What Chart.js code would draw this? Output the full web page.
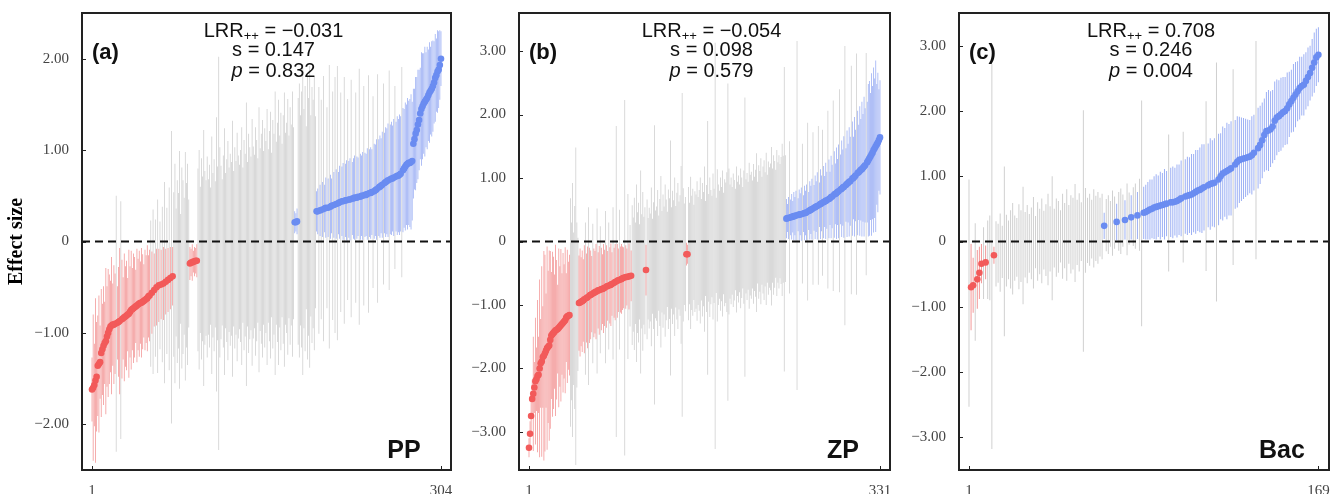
<!DOCTYPE html>
<html>
<head>
<meta charset="utf-8">
<title>Effect size by study</title>
<script src="https://cdn.jsdelivr.net/npm/chart.js@4.4.0/dist/chart.umd.min.js"></script>
<style>
    html, body { margin: 0; padding: 0; background: #fff; }
    #wrap { position: relative; width: 1342px; height: 494px; overflow: hidden; }
    canvas { position: absolute; top: 0; }
</style>
</head>
<body>
<div id="wrap">
    <canvas id="chartPP" width="460" height="494" style="left:0px"></canvas>
    <canvas id="chartZP" width="440" height="494" style="left:460px"></canvas>
    <canvas id="chartBac" width="442" height="494" style="left:900px"></canvas>
</div>
<script>
// sorted effect sizes (LRR) and half-width of the 95% CI, one entry per study
const ppEffect = [
    -1.62,-1.60,-1.57,-1.52,-1.48,-1.36,-1.34,-1.32,-1.22,-1.18,
    -1.14,-1.11,-1.09,-1.04,-1.00,-0.96,-0.93,-0.92,-0.91,-0.91,
    -0.90,-0.90,-0.89,-0.88,-0.87,-0.86,-0.85,-0.84,-0.83,-0.82,
    -0.81,-0.80,-0.79,-0.77,-0.75,-0.74,-0.73,-0.72,-0.71,-0.70,
    -0.69,-0.68,-0.67,-0.67,-0.66,-0.65,-0.64,-0.63,-0.62,-0.60,
    -0.59,-0.57,-0.56,-0.55,-0.53,-0.51,-0.50,-0.49,-0.48,-0.48,
    -0.47,-0.47,-0.46,-0.45,-0.44,-0.43,-0.42,-0.41,-0.40,-0.39,
    -0.38,-0.36,-0.35,-0.34,-0.33,-0.32,-0.31,-0.30,-0.29,-0.28,
    -0.27,-0.27,-0.26,-0.25,-0.24,-0.24,-0.23,-0.23,-0.22,-0.22,
    -0.21,-0.21,-0.20,-0.20,-0.20,-0.19,-0.19,-0.18,-0.18,-0.18,
    -0.17,-0.17,-0.16,-0.16,-0.15,-0.15,-0.15,-0.14,-0.14,-0.13,
    -0.13,-0.12,-0.12,-0.12,-0.11,-0.11,-0.10,-0.10,-0.10,-0.09,
    -0.09,-0.08,-0.08,-0.08,-0.07,-0.07,-0.06,-0.06,-0.06,-0.05,
    -0.05,-0.04,-0.04,-0.04,-0.03,-0.03,-0.02,-0.02,-0.02,-0.01,
    -0.01,0.00,0.00,0.01,0.01,0.02,0.02,0.03,0.03,0.04,
    0.04,0.05,0.05,0.06,0.06,0.07,0.07,0.08,0.08,0.09,
    0.09,0.10,0.10,0.11,0.11,0.12,0.13,0.13,0.14,0.15,
    0.16,0.16,0.17,0.18,0.19,0.20,0.21,0.21,0.22,0.22,
    0.23,0.23,0.24,0.24,0.25,0.25,0.26,0.26,0.27,0.27,
    0.28,0.29,0.30,0.31,0.32,0.33,0.33,0.34,0.34,0.35,
    0.35,0.36,0.36,0.37,0.37,0.37,0.38,0.38,0.39,0.39,
    0.40,0.40,0.41,0.42,0.42,0.43,0.43,0.44,0.44,0.45,
    0.45,0.45,0.46,0.46,0.46,0.47,0.47,0.47,0.48,0.48,
    0.48,0.49,0.49,0.49,0.50,0.50,0.50,0.51,0.51,0.52,
    0.52,0.53,0.53,0.54,0.54,0.55,0.56,0.57,0.58,0.59,
    0.60,0.61,0.62,0.63,0.64,0.65,0.66,0.67,0.67,0.68,
    0.69,0.69,0.70,0.70,0.71,0.72,0.72,0.73,0.74,0.76,
    0.78,0.80,0.82,0.84,0.85,0.86,0.86,0.87,0.88,1.07,
    1.12,1.18,1.22,1.28,1.33,1.40,1.45,1.48,1.51,1.53,
    1.55,1.57,1.60,1.63,1.65,1.67,1.70,1.74,1.79,1.82,
    1.86,1.88,1.93,2.00
];
const ppHalfCI = [
    0.35,0.80,0.45,0.90,0.60,0.55,0.75,0.40,0.70,0.50,
    0.65,0.45,0.80,0.55,0.70,0.60,0.50,0.75,0.45,0.65,
    0.55,1.40,0.40,0.60,0.80,1.30,0.65,0.45,0.70,0.55,
    0.60,0.40,0.70,0.50,0.65,0.45,0.60,0.55,0.40,0.62,
    0.50,0.58,0.45,0.60,0.52,0.40,0.55,0.48,0.58,0.45,
    0.50,0.80,0.45,0.90,0.40,0.75,0.42,0.95,0.40,0.70,
    0.38,0.85,0.40,1.10,0.36,0.80,0.35,1.00,0.34,1.60,
    0.32,0.90,1.20,0.70,1.00,0.85,1.30,0.60,1.10,0.95,
    0.75,1.25,0.90,1.10,0.70,0.18,0.15,0.20,0.12,0.16,
    0.14,0.18,1.00,1.20,0.80,1.10,0.90,1.40,0.95,0.85,
    1.10,0.85,1.00,0.75,1.30,0.90,1.05,0.80,1.50,0.95,
    2.15,1.15,0.95,0.80,1.05,1.35,0.85,1.00,1.20,0.90,
    1.05,0.95,1.40,0.85,1.10,0.95,1.25,1.00,0.90,1.05,
    1.30,0.85,1.15,1.00,1.55,0.90,1.20,1.05,0.95,1.35,
    1.05,0.95,1.25,1.10,0.90,1.45,1.00,1.15,1.30,0.95,
    1.20,1.05,1.40,0.95,1.15,1.35,0.90,1.25,1.10,1.55,
    1.00,1.20,1.45,1.05,1.30,0.95,1.25,1.50,1.05,1.15,
    1.40,1.00,1.30,1.10,1.45,1.05,0.12,0.10,0.14,1.35,
    1.50,1.15,1.40,1.70,1.20,1.45,1.00,1.55,1.30,1.65,
    1.10,1.40,1.25,1.50,1.05,0.22,0.25,1.35,0.28,1.20,
    0.30,1.45,0.26,0.33,1.10,0.32,1.55,0.35,0.30,1.25,
    0.36,1.40,0.38,1.50,0.34,0.40,1.20,0.38,0.42,1.35,
    0.40,0.44,1.10,0.42,0.45,1.30,0.40,0.44,0.46,1.15,
    0.45,0.43,1.40,0.47,0.44,0.48,1.20,0.46,0.45,0.50,
    1.30,0.48,0.50,0.47,1.05,0.52,0.50,0.55,1.25,0.53,
    0.56,0.52,0.58,1.10,0.55,0.60,0.58,0.62,1.20,0.60,
    0.62,0.58,0.64,1.00,0.60,0.65,0.62,0.66,0.63,1.15,
    0.68,0.65,0.70,0.66,0.72,0.68,0.70,0.74,0.65,0.60,
    0.55,0.62,0.58,0.60,0.55,0.50,0.62,0.58,0.55,0.60,
    0.52,0.56,0.50,0.55,0.48,0.52,0.50,0.45,0.48,0.40,
    0.45,0.42,0.38,0.30
];

const zpEffect = [
    -3.25,-3.03,-2.75,-2.48,-2.40,-2.30,-2.20,-2.17,-2.12,-2.10,
    -2.00,-1.92,-1.89,-1.82,-1.80,-1.76,-1.72,-1.68,-1.66,-1.64,
    -1.55,-1.48,-1.46,-1.44,-1.42,-1.40,-1.39,-1.38,-1.36,-1.34,
    -1.32,-1.30,-1.28,-1.26,-1.24,-1.20,-1.18,-1.17,-1.16,-1.12,
    -1.10,-1.08,-1.06,-1.04,-1.02,-1.00,-0.99,-0.97,-0.96,-0.95,
    -0.94,-0.93,-0.91,-0.90,-0.89,-0.88,-0.86,-0.85,-0.84,-0.83,
    -0.82,-0.81,-0.80,-0.79,-0.78,-0.77,-0.77,-0.76,-0.75,-0.75,
    -0.74,-0.73,-0.72,-0.71,-0.70,-0.70,-0.69,-0.68,-0.67,-0.66,
    -0.65,-0.64,-0.63,-0.62,-0.61,-0.60,-0.60,-0.59,-0.58,-0.57,
    -0.57,-0.56,-0.56,-0.55,-0.55,-0.54,-0.54,-0.53,-0.52,-0.51,
    -0.50,-0.50,-0.49,-0.49,-0.48,-0.48,-0.47,-0.47,-0.46,-0.46,
    -0.45,-0.44,-0.43,-0.42,-0.41,-0.40,-0.39,-0.38,-0.37,-0.36,
    -0.35,-0.34,-0.34,-0.33,-0.32,-0.32,-0.31,-0.30,-0.30,-0.29,
    -0.28,-0.28,-0.27,-0.26,-0.26,-0.25,-0.25,-0.24,-0.24,-0.23,
    -0.23,-0.22,-0.22,-0.21,-0.21,-0.21,-0.20,-0.20,-0.20,-0.20,
    -0.19,-0.19,-0.18,-0.18,-0.17,-0.17,-0.16,-0.16,-0.15,-0.15,
    -0.14,-0.14,-0.13,-0.13,-0.12,-0.12,-0.11,-0.11,-0.10,-0.10,
    -0.09,-0.09,-0.08,-0.08,-0.07,-0.07,-0.06,-0.06,-0.05,-0.05,
    -0.04,-0.04,-0.03,-0.03,-0.02,-0.02,-0.01,-0.01,0.00,0.00,
    0.01,0.01,0.02,0.02,0.03,0.03,0.04,0.04,0.05,0.05,
    0.06,0.06,0.07,0.07,0.08,0.08,0.09,0.09,0.10,0.10,
    0.11,0.12,0.12,0.13,0.14,0.14,0.15,0.16,0.16,0.17,
    0.18,0.18,0.19,0.20,0.20,0.21,0.22,0.23,0.24,0.25,
    0.26,0.27,0.28,0.29,0.30,0.31,0.32,0.33,0.34,0.35,
    0.35,0.36,0.36,0.37,0.37,0.38,0.38,0.39,0.39,0.40,
    0.40,0.41,0.41,0.42,0.42,0.43,0.43,0.44,0.44,0.45,
    0.45,0.46,0.47,0.48,0.49,0.50,0.51,0.52,0.53,0.54,
    0.55,0.56,0.57,0.58,0.59,0.60,0.61,0.62,0.63,0.64,
    0.65,0.66,0.67,0.68,0.70,0.71,0.72,0.74,0.75,0.76,
    0.78,0.79,0.80,0.82,0.83,0.85,0.86,0.88,0.89,0.91,
    0.92,0.94,0.95,0.97,0.99,1.00,1.02,1.04,1.06,1.08,
    1.09,1.11,1.13,1.14,1.16,1.18,1.20,1.22,1.25,1.28,
    1.31,1.34,1.37,1.40,1.44,1.47,1.50,1.53,1.56,1.60,1.64
];
const zpHalfCI = [
    0.15,0.20,0.25,0.30,0.90,0.40,1.00,0.50,1.20,0.60,
    1.40,0.70,1.50,0.80,1.65,1.55,0.90,1.60,1.20,1.50,
    1.40,1.00,1.30,1.20,0.90,1.35,1.10,0.70,1.25,0.95,
    1.20,0.80,1.10,0.90,1.15,0.70,1.05,0.85,0.95,1.80,
    1.40,2.00,1.20,1.60,2.50,1.30,1.05,0.75,0.85,0.70,
    0.80,0.65,0.85,1.20,0.70,0.80,1.40,0.75,0.70,0.60,
    1.10,0.70,0.65,0.75,1.30,0.60,0.70,1.00,0.65,0.55,
    0.70,0.60,1.20,0.65,0.55,1.00,0.60,0.65,0.50,1.20,
    0.55,0.60,2.45,0.58,0.50,1.10,0.52,0.55,0.50,0.48,
    2.80,0.50,0.45,1.30,0.52,0.80,0.40,1.10,0.90,1.20,
    0.80,1.40,0.95,1.10,0.75,1.60,0.90,1.25,0.85,1.00,
    0.40,1.10,0.80,0.95,0.85,1.25,0.75,1.00,2.20,0.85,
    0.90,1.15,0.75,1.00,1.35,0.80,1.05,0.85,1.20,0.95,
    0.75,1.10,0.95,1.85,0.80,1.05,0.90,1.25,0.80,1.00,
    1.15,0.85,0.95,1.40,2.55,1.05,0.80,0.90,0.18,0.15,
    1.05,0.80,1.20,0.90,1.00,0.75,0.95,0.90,1.10,0.85,
    0.95,1.15,0.80,1.05,0.90,1.30,0.75,1.00,2.00,0.85,
    1.10,0.90,0.80,1.15,0.90,3.20,0.75,1.20,0.95,0.85,
    1.05,0.90,1.15,0.80,1.00,0.95,1.10,2.50,1.15,0.90,
    1.00,0.85,1.05,0.95,0.80,1.15,0.90,1.00,0.85,1.10,
    0.95,0.80,1.05,2.20,0.90,1.00,0.85,1.15,0.95,1.00,
    0.85,1.10,0.90,1.00,1.25,0.80,1.05,0.95,1.15,0.85,
    1.00,1.10,0.90,1.20,0.85,1.05,0.95,1.00,1.25,0.90,
    1.10,1.00,0.85,1.15,0.95,1.05,0.90,1.00,1.20,1.00,
    2.40,1.00,0.31,0.22,0.33,1.20,0.28,0.36,0.25,0.38,
    0.30,0.39,2.75,0.26,0.40,0.33,0.42,1.10,0.29,0.43,
    0.35,0.44,1.40,0.30,0.46,0.38,0.48,1.20,0.36,0.50,
    0.40,0.53,1.25,0.35,0.55,0.44,1.15,0.57,0.40,0.60,
    0.45,1.40,0.62,0.42,0.65,0.50,1.50,0.68,0.48,0.72,
    0.52,0.74,1.60,0.55,0.76,0.60,0.80,2.20,0.58,0.84,
    0.62,0.86,0.70,1.80,0.90,0.65,0.94,0.72,1.90,0.98,
    0.75,1.02,0.80,1.06,0.85,1.10,0.90,1.75,0.95,1.20,
    1.22,1.00,1.28,1.05,1.30,1.10,1.35,0.95,1.10,0.80,0.90
];

const bacEffect = [
    -0.79,-0.70,-0.67,-0.62,-0.58,-0.48,-0.34,-0.33,-0.32,-0.28,
    -0.25,-0.23,-0.21,-0.19,-0.18,-0.17,-0.16,-0.15,-0.14,-0.13,
    -0.12,-0.11,-0.10,-0.09,-0.08,-0.07,-0.06,-0.05,-0.04,-0.03,
    -0.03,-0.02,-0.01,0.00,0.00,0.01,0.02,0.02,0.03,0.04,
    0.05,0.05,0.06,0.07,0.08,0.08,0.09,0.10,0.11,0.11,
    0.12,0.13,0.14,0.14,0.15,0.16,0.17,0.17,0.18,0.19,
    0.20,0.20,0.21,0.22,0.23,0.24,0.25,0.26,0.27,0.28,
    0.29,0.30,0.31,0.31,0.32,0.33,0.34,0.35,0.37,0.38,
    0.39,0.40,0.41,0.43,0.44,0.45,0.47,0.49,0.50,0.52,
    0.53,0.54,0.55,0.56,0.57,0.58,0.59,0.60,0.60,0.61,
    0.62,0.64,0.66,0.68,0.69,0.70,0.71,0.72,0.74,0.76,
    0.78,0.79,0.81,0.83,0.85,0.86,0.88,0.89,0.90,0.91,
    0.95,1.00,1.04,1.06,1.08,1.10,1.12,1.14,1.18,1.22,
    1.25,1.26,1.27,1.28,1.29,1.30,1.32,1.36,1.40,1.43,
    1.48,1.55,1.63,1.69,1.70,1.72,1.76,1.85,1.90,1.92,
    1.95,1.98,2.00,2.04,2.10,2.15,2.20,2.25,2.30,2.35,
    2.38,2.40,2.46,2.52,2.58,2.66,2.74,2.82,2.86
];
const bacHalfCI = [
    1.74,0.66,0.42,0.90,0.45,0.40,0.30,0.55,0.26,0.60,
    0.65,2.95,0.13,0.50,0.45,0.60,0.40,1.30,0.55,0.45,
    0.60,0.70,0.50,0.45,0.65,0.55,0.90,0.50,0.60,0.45,
    0.55,0.70,0.40,0.60,0.50,0.65,0.45,0.55,0.70,0.50,
    0.95,0.45,0.60,0.55,0.40,0.65,0.50,0.70,0.45,0.60,
    0.55,0.75,0.50,0.60,0.45,1.85,0.65,0.50,0.55,0.45,
    0.60,0.50,0.55,0.45,0.50,0.20,0.40,0.45,0.35,0.50,
    0.40,0.28,0.45,0.50,0.40,0.30,0.55,0.40,0.34,0.45,
    0.50,0.36,0.55,1.73,0.40,0.42,0.44,0.46,0.45,0.48,
    0.50,0.47,0.52,0.49,0.54,0.50,1.05,0.53,0.55,0.52,
    0.56,0.54,0.58,1.00,0.57,0.60,0.58,0.62,0.60,0.64,
    0.62,0.65,0.68,0.66,1.30,0.64,0.70,0.66,0.68,1.83,
    0.70,0.66,0.72,0.68,0.74,0.70,0.72,1.50,0.68,0.70,
    0.66,0.64,0.62,0.60,0.58,0.56,0.60,0.58,1.67,0.62,
    0.60,0.58,0.56,0.60,0.62,0.58,0.56,0.60,0.58,0.55,
    0.56,0.54,0.52,0.55,0.50,0.48,0.52,0.50,0.46,0.48,
    0.45,0.47,0.44,0.45,0.42,0.44,0.46,0.44,0.42
];

const ppYTicks = [-2, -1, 0, 1, 2];
const zpYTicks = [-3, -2, -1, 0, 1, 2, 3];
const bacYTicks = [-3, -2, -1, 0, 1, 2, 3];
const ppXTicks = [1, 304];
const zpXTicks = [1, 331];
const bacXTicks = [1, 169];

const panelTags = ['(a)', '(b)', '(c)'];
const groupNames = ['PP', 'ZP', 'Bac'];
const lrrValues = ['\u22120.031', '\u22120.054', '0.708'];
const sValues = ['0.147', '0.098', '0.246'];
const pValues = ['0.832', '0.579', '0.004'];

const GREY_BAR = '#d0d0d0';
const RED_BAR = '#f39898';
const BLUE_BAR = '#9db0f4';
const RED_DOT = '#f25a5a';
const BLUE_DOT = '#6a8cf1';

Chart.defaults.font.family = '"Liberation Sans", Arial, sans-serif';

function splitStudies(effect, half) {
    const out = { grey: [], red: [], blue: [], redPts: [], bluePts: [] };
    effect.forEach((v, i) => {
        const lo = v - half[i];
        const hi = v + half[i];
        const bar = { x: i + 1, y: [lo, hi] };
        if (hi < 0) {
            out.red.push(bar);
            out.redPts.push({ x: i + 1, y: v });
        } else if (lo > 0) {
            out.blue.push(bar);
            out.bluePts.push({ x: i + 1, y: v });
        } else {
            out.grey.push(bar);
        }
    });
    return out;
}

function fmtTick(v) {
    if (v === 0) return '0';
    return (v < 0 ? '\u2212' : '') + Math.abs(v).toFixed(2);
}

// scales should not push the plot box around with label overflow
function noScalePadding(s) {
    s.paddingTop = 0;
    s.paddingBottom = 0;
    s.paddingLeft = 0;
    s.paddingRight = 0;
}

const panelDecor = {
    id: 'panelDecor',
    afterDatasetsDraw(chart, args, opts) {
        const ctx = chart.ctx;
        const a = chart.chartArea;
        const xs = chart.scales.x;
        const ys = chart.scales.y;
        ctx.save();

        // zero reference line
        const y0 = ys.getPixelForValue(0);
        ctx.strokeStyle = '#111';
        ctx.lineWidth = 2;
        ctx.setLineDash([8, 5]);
        ctx.beginPath();
        ctx.moveTo(a.left, y0);
        ctx.lineTo(a.right, y0);
        ctx.stroke();
        ctx.setLineDash([]);

        // frame + small inward ticks
        ctx.strokeStyle = '#222';
        ctx.lineWidth = 2;
        ctx.strokeRect(a.left, a.top, a.right - a.left, a.bottom - a.top);
        ctx.lineWidth = 1;
        ctx.beginPath();
        ys.ticks.forEach(t => {
            const py = Math.round(ys.getPixelForValue(t.value)) + 0.5;
            ctx.moveTo(a.left, py);
            ctx.lineTo(a.left + 4, py);
        });
        xs.ticks.forEach(t => {
            const px = Math.round(xs.getPixelForValue(t.value)) + 0.5;
            ctx.moveTo(px, a.bottom);
            ctx.lineTo(px, a.bottom - 4);
        });
        ctx.stroke();

        // statistics block
        const big = '20px "Liberation Sans", Arial, sans-serif';
        const small = '13px "Liberation Sans", Arial, sans-serif';
        const cx = (a.left + a.right) / 2 + 7;
        ctx.fillStyle = '#111';
        ctx.textBaseline = 'alphabetic';
        ctx.textAlign = 'left';

        ctx.font = big;
        const w1 = ctx.measureText('LRR').width;
        const rest = ' = ' + opts.lrr;
        const w3 = ctx.measureText(rest).width;
        ctx.font = small;
        const w2 = ctx.measureText('++').width;
        let sx = cx - (w1 + w2 + w3) / 2;
        ctx.font = big;
        ctx.fillText('LRR', sx, a.top + 24);
        ctx.font = small;
        ctx.fillText('++', sx + w1, a.top + 27);
        ctx.font = big;
        ctx.fillText(rest, sx + w1 + w2, a.top + 24);

        ctx.textAlign = 'center';
        ctx.fillText('s = ' + opts.s, cx, a.top + 43);

        ctx.textAlign = 'left';
        ctx.font = 'italic ' + big;
        const wp = ctx.measureText('p').width;
        ctx.font = big;
        const pRest = ' = ' + opts.p;
        const wr = ctx.measureText(pRest).width;
        sx = cx - (wp + wr) / 2;
        ctx.font = 'italic ' + big;
        ctx.fillText('p', sx, a.top + 64);
        ctx.font = big;
        ctx.fillText(pRest, sx + wp, a.top + 64);

        // panel tag and group name
        ctx.font = 'bold 22px "Liberation Sans", Arial, sans-serif';
        ctx.fillText(opts.tag, a.left + 10, a.top + 46);
        ctx.font = 'bold 25px "Liberation Sans", Arial, sans-serif';
        ctx.textAlign = 'center';
        ctx.fillText(opts.group, a.right - 47, a.bottom - 12);

        ctx.restore();
    }
};

function drawPanel(canvasId, p) {
    const d = splitStudies(p.effect, p.half);
    const ctx = document.getElementById(canvasId).getContext('2d');
    const tickFont = { family: '"Liberation Serif", "Times New Roman", serif', size: 15 };
    const barOpts = { type: 'bar', grouped: false, barThickness: p.barWidth, inflateAmount: 0, borderWidth: 0 };

    return new Chart(ctx, {
        type: 'scatter',
        data: {
            datasets: [
                { type: 'scatter', data: d.redPts, backgroundColor: RED_DOT, borderWidth: 0, pointRadius: 3.3, order: 0 },
                { type: 'scatter', data: d.bluePts, backgroundColor: BLUE_DOT, borderWidth: 0, pointRadius: 3.3, order: 0 },
                Object.assign({ data: d.red, backgroundColor: RED_BAR, order: 1 }, barOpts),
                Object.assign({ data: d.blue, backgroundColor: BLUE_BAR, order: 1 }, barOpts),
                Object.assign({ data: d.grey, backgroundColor: GREY_BAR, order: 2 }, barOpts)
            ]
        },
        options: {
            responsive: false,
            animation: false,
            events: [],
            layout: { padding: { top: 13, right: p.rightPad, left: 0, bottom: 0 } },
            plugins: {
                legend: { display: false },
                tooltip: { enabled: false },
                panelDecor: { lrr: p.lrr, s: p.s, p: p.p, tag: p.tag, group: p.group }
            },
            scales: {
                x: {
                    type: 'linear',
                    min: p.xMin,
                    max: p.xMax,
                    offset: false,
                    grid: { display: false, drawTicks: false, offset: false },
                    border: { display: false },
                    afterBuildTicks: s => { s.ticks = p.xTicks.map(v => ({ value: v })); },
                    afterFit: s => { s.height = 24; noScalePadding(s); },
                    ticks: {
                        padding: 12,
                        autoSkip: false,
                        maxRotation: 0,
                        color: '#444',
                        font: tickFont,
                        callback: v => String(v)
                    }
                },
                y: {
                    type: 'linear',
                    min: p.yMin,
                    max: p.yMax,
                    grid: { display: false, drawTicks: false },
                    border: { display: false },
                    afterBuildTicks: s => { s.ticks = p.yTicks.map(v => ({ value: v })); },
                    afterFit: s => { s.width = p.yWidth; noScalePadding(s); },
                    ticks: {
                        padding: 13,
                        color: '#444',
                        font: tickFont,
                        callback: v => fmtTick(v)
                    },
                    title: {
                        display: p.showTitle,
                        text: 'Effect size',
                        color: '#000',
                        font: { family: '"Liberation Serif", "Times New Roman", serif', size: 20, weight: 'bold' },
                        padding: { top: 5, bottom: 0 }
                    }
                }
            }
        },
        plugins: [panelDecor]
    });
}

drawPanel('chartPP', {
    effect: ppEffect, half: ppHalfCI, yTicks: ppYTicks, xTicks: ppXTicks,
    xMin: -7.7, xMax: 312.7, yMin: -2.5, yMax: 2.5,
    yWidth: 82, rightPad: 9, showTitle: true, barWidth: 0.8,
    lrr: lrrValues[0], s: sValues[0], p: pValues[0], tag: panelTags[0], group: groupNames[0]
});
drawPanel('chartZP', {
    effect: zpEffect, half: zpHalfCI, yTicks: zpYTicks, xTicks: zpXTicks,
    xMin: -8.4, xMax: 340.4, yMin: -3.6, yMax: 3.6,
    yWidth: 59, rightPad: 10, showTitle: false, barWidth: 0.8,
    lrr: lrrValues[1], s: sValues[1], p: pValues[1], tag: panelTags[1], group: groupNames[1]
});
drawPanel('chartBac', {
    effect: bacEffect, half: bacHalfCI, yTicks: bacYTicks, xTicks: bacXTicks,
    xMin: -3.8, xMax: 174.1, yMin: -3.5, yMax: 3.5,
    yWidth: 59, rightPad: 13, showTitle: false, barWidth: 1,
    lrr: lrrValues[2], s: sValues[2], p: pValues[2], tag: panelTags[2], group: groupNames[2]
});
</script>
</body>
</html>
